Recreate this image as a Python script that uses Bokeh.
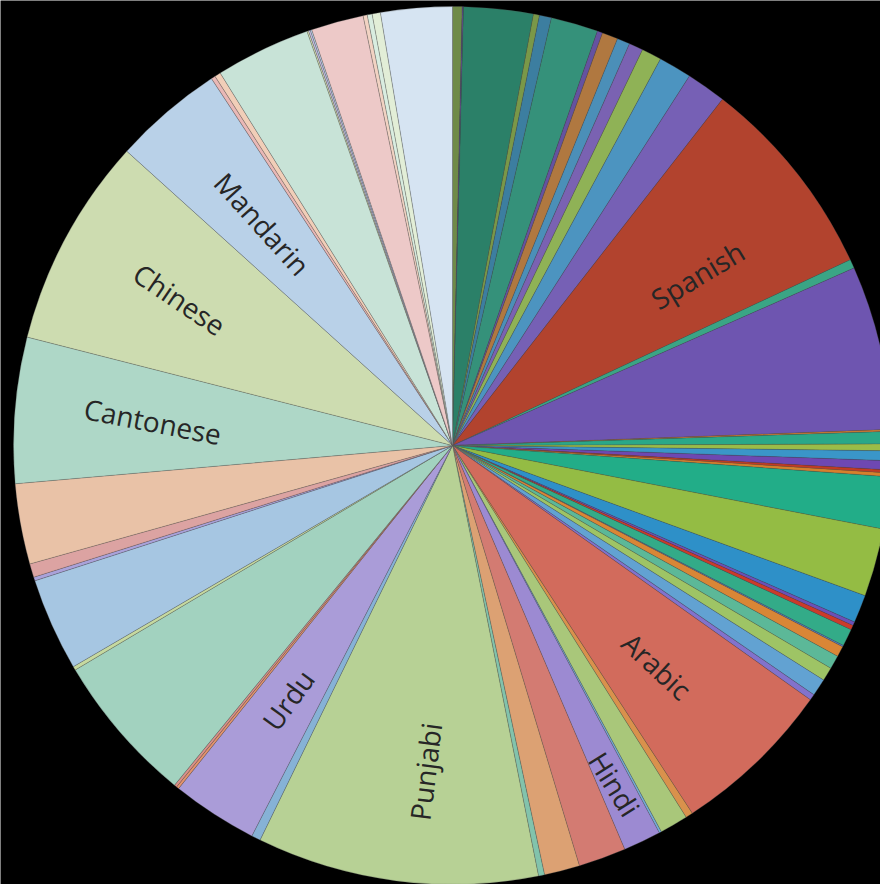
import math
from bokeh.plotting import figure
from bokeh.models import Range1d, ColumnDataSource
from bokeh.embed import file_html
from bokeh.resources import INLINE
from bokeh.core.properties import value

# ---- data (slice shares, clockwise from 12 o'clock) ----
labels = ["", "", "", "", "", "", "", "", "", "", "", "", "",
          "Spanish", "", "", "", "", "", "", "", "", "", "", "", "", "", "", "",
          "", "", "", "", "", "", "Arabic", "", "", "", "Hindi", "", "", "",
          "Punjabi", "", "Urdu", "", "", "", "", "", "", "", "",
          "Cantonese", "Chinese", "Mandarin", "", "", "", "", "", "",
          "", "", "", "", ""]
shares = [1.27, 0.17, 9.19, 0.80, 1.60, 6.25, 0.70, 2.10, 1.70, 1.87, 2.63, 4.39, 5.28,
          27.02, 1.18, 21.75, 0.25, 1.65, 0.90, 1.30, 1.20, 0.40, 0.50, 6.90, 9.00,
          3.70, 0.50, 0.60, 2.30, 0.20, 1.40, 1.80, 1.80, 2.30, 0.80, 21.50, 0.95,
          3.75, 0.30, 5.00, 6.30, 4.70, 0.80, 37.30, 1.20, 11.40, 0.35, 0.35, 19.95,
          0.50, 12.30, 0.50, 1.80, 10.65, 19.30, 27.80, 14.60, 0.55, 0.80, 12.60,
          0.20, 0.25, 0.20, 6.95, 0.55, 0.65, 1.10, 9.45]
colors = ["#6f8a48", "#5b4a8f", "#2b8068", "#7a9848", "#3c7ea0", "#35917a", "#6552a0",
          "#b07840", "#4b8fb8", "#7a62b2", "#8fb256", "#4c94c0", "#7660b5",
          "#b2432e", "#3aa585", "#6e55b0", "#d07a30", "#2aa888", "#9abc48", "#3a96c8",
          "#6e48b2", "#c43a22", "#d6802c", "#22ad88", "#94bc44",
          "#2e90c8", "#6a50b8", "#cc3a2a", "#33ab88", "#4f7fc5", "#d98636", "#5cb898",
          "#9ec465", "#62a2d2", "#8272cc", "#d26b5c", "#d9914c",
          "#a9c77a", "#74acd5", "#9c8ad2", "#d37b72", "#dca173", "#82c3ac", "#b7d195",
          "#86b2d6", "#aa9cd8", "#e3936d", "#d9908a", "#a2d2bf",
          "#c6d9a0", "#a6c6e2", "#aaa2da", "#dca3a2", "#e9c2a7", "#aed7c7", "#cddcb0",
          "#b9d1e8", "#e9b8b6", "#f1ceb8", "#c8e3d7",
          "#d9e2b3", "#c5bee3", "#bcd3ec", "#edc9c8", "#f2d3c3", "#d9ede0", "#e2eed7",
          "#d6e4f2"]

# label styling for the named slices:
# (radius fraction, angular shift from slice middle in degrees, text tilt in degrees)
label_style = {"Spanish": (0.68, 3.7, 31), "Arabic": (0.685, 1.0, -43),
               "Hindi": (0.855, 0.0, -58), "Punjabi": (0.745, -2.6, 83),
               "Urdu": (0.69, 0.0, 54), "Cantonese": (0.685, 0.0, -11),
               "Chinese": (0.705, 0.0, -34), "Mandarin": (0.665, 0.0, -48)}

W, H = 880, 884
CX, CY, R = 452, H - 445, 439

total = float(sum(shares))
starts, ends, mids = [], [], []
cum = 0.0
for s in shares:
    a0 = cum / total * 2 * math.pi
    cum += s
    a1 = cum / total * 2 * math.pi
    starts.append(math.pi / 2 - a0)
    ends.append(math.pi / 2 - a1)
    mids.append((a0 + a1) / 2)

src = ColumnDataSource(dict(start=starts, end=ends, color=colors))

p = figure(width=W, height=H, output_backend="svg", toolbar_location=None,
           x_range=Range1d(0, W), y_range=Range1d(0, H), min_border=0,
           background_fill_color="black", border_fill_color="black",
           outline_line_color=None)
p.axis.visible = False
p.grid.visible = False

p.wedge(x=CX, y=CY, radius=R, start_angle="start", end_angle="end",
        direction="clock", fill_color="color", line_color="#555555",
        line_alpha=0.45, line_width=0.6, source=src)

lx, ly, lt, la = [], [], [], []
for name, m in zip(labels, mids):
    if not name:
        continue
    frac, shift, tilt = label_style[name]
    a = m + math.radians(shift)
    r = frac * R
    lx.append(CX + r * math.sin(a))
    ly.append(CY + r * math.cos(a))
    la.append(math.radians(tilt))
    lt.append(name)

p.text(x=lx, y=ly, text=lt, angle=la, text_align="center", text_baseline="middle",
       text_font=value("Open Sans"), text_font_size="28px", text_color="#262626")

open("out.html", "w").write(file_html(p, INLINE))
